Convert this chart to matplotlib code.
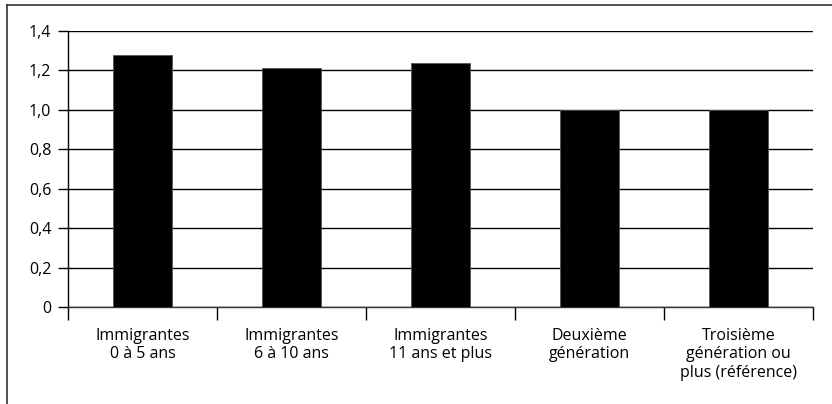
import matplotlib
matplotlib.use("Agg")
import matplotlib.pyplot as plt
from matplotlib.lines import Line2D

categories = [
    "Immigrantes\n0 à 5 ans",
    "Immigrantes\n6 à 10 ans",
    "Immigrantes\n11 ans et plus",
    "Deuxième\ngénération",
    "Troisième\ngénération ou\nplus (référence)",
]
values = [1.28, 1.21, 1.24, 1.00, 1.00]
yticks = [0, 0.2, 0.4, 0.6, 0.8, 1.0, 1.2, 1.4]
ytick_labels = ["0", "0,2", "0,4", "0,6", "0,8", "1,0", "1,2", "1,4"]

plt.rcParams["font.family"] = ["Open Sans", "DejaVu Sans"]

fig = plt.figure(figsize=(8.32, 4.04), dpi=100)
ax = fig.add_axes([68 / 832, 1 - 307 / 404, (813 - 68) / 832, (307 - 31) / 404])

x = list(range(len(categories)))
ax.bar(x, values, width=0.4, color="black", edgecolor="#555555", linewidth=0.6, zorder=3)

ax.set_xlim(-0.5, len(categories) - 0.5)
ax.set_ylim(0, 1.4)
ax.set_yticks(yticks)
ax.set_yticklabels(ytick_labels)
ax.yaxis.grid(True, color="black", linewidth=1.0, zorder=1)
ax.set_axisbelow(True)

# category separators as tick marks below the axis
ax.set_xticks([i - 0.5 for i in range(len(categories) + 1)])
ax.set_xticklabels([])
ax.tick_params(axis="x", direction="out", length=9, width=1.0, color="black")
ax.tick_params(axis="y", direction="out", length=7, width=1.0, color="black",
               labelsize=11.5, pad=5)
for i, lab in enumerate(categories):
    ax.text(i, -0.105, lab, ha="center", va="top", fontsize=11.5,
            linespacing=1.22, transform=ax.transData)

for side in ["top", "right"]:
    ax.spines[side].set_visible(False)
ax.spines["left"].set_linewidth(1.0)
ax.spines["bottom"].set_linewidth(1.0)
ax.spines["bottom"].set_color("#333333")

# outer frame (left and top edges)
fig.add_artist(Line2D([7 / 832, 7 / 832], [0, 1 - 5 / 404], transform=fig.transFigure,
                      color="#333333", linewidth=1.2))
fig.add_artist(Line2D([7 / 832, 1], [1 - 5 / 404, 1 - 5 / 404], transform=fig.transFigure,
                      color="#333333", linewidth=1.2))

fig.savefig("out.png", dpi=100)
